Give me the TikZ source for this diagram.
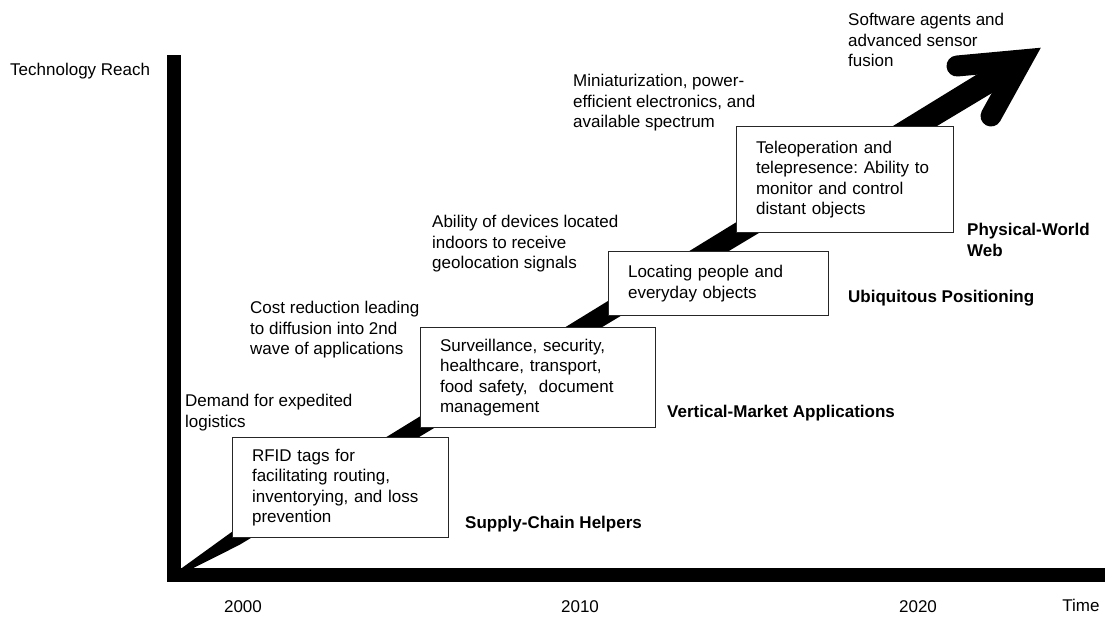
\documentclass[tikz,border=0pt]{standalone}
\usepackage{fontspec}
\setmainfont{Liberation Sans}
\usetikzlibrary{calc}
\frenchspacing
\begin{document}
\begin{tikzpicture}[x=1pt,y=-1pt,
  txt/.style={font=\fontsize{17}{20.5}\selectfont},
  lbl/.style={txt, align=left, inner sep=0pt, anchor=north west},
  bld/.style={lbl, font=\fontsize{17}{20.5}\selectfont\bfseries},
  yr/.style={txt, inner sep=0pt},
  box/.style={txt, draw=black!85, line width=1.1pt, fill=white, anchor=north west,
    inner xsep=19.5pt, inner ysep=0pt, align=left},
  bar/.style={fill=black},
]
\useasboundingbox (0,0) rectangle (1107,616);

% ---- big tapered arrow ----
\coordinate (c0) at (177,574);
\coordinate (c1) at (1012,67);
\coordinate (sh) at ($(c0)!0.07!(c1)$);
\fill ($(c0)!2pt!90:(c1)$) -- ($(sh)!7.5pt!90:(c1)$) -- ($(c1)!12pt!-90:(c0)$)
   -- ($(c1)!12pt!90:(c0)$) -- ($(sh)!7.5pt!-90:(c1)$) -- ($(c0)!2pt!-90:(c1)$) -- cycle;
\coordinate (hl) at (957,66);
\coordinate (ht) at (1022,60);
\coordinate (hr) at (991,116);
\draw[line width=21pt, line cap=round, line join=miter] (hl) -- (ht) -- (hr);

% ---- boxes ----
\node[box, text width=177pt, minimum width=216pt, minimum height=100pt] (b1) at (232,437)
  {RFID tags for\\facilitating routing,\\inventorying, and loss\\prevention};
\node[box, text width=196pt, minimum width=235pt, minimum height=100pt] (b2) at (420,327)
  {Surveillance, security,\\healthcare, transport,\\food safety,\ \ document\\management};
\node[box, text width=181pt, minimum width=220pt, minimum height=64pt] (b3) at (608,251)
  {Locating people and\\everyday objects};
\node[box, text width=178pt, minimum width=217pt, minimum height=106pt] (b4) at (736,126)
  {Teleoperation and\\telepresence: Ability to\\monitor and control\\distant objects};

% ---- axes ----
\fill[bar] (167,55) rectangle (181,582);
\fill[bar] (167,568) rectangle (1105,582);

% ---- labels ----
\node[lbl] (treach) at (10,63) {Technology Reach};
\node[lbl] (soft) at (848,13) {Software agents and\\advanced sensor\\fusion};
\node[lbl] (mini) at (573,74) {Miniaturization, power-\\efficient electronics, and\\available spectrum};
\node[bld] (phys) at (967,223) {Physical-World\\Web};
\node[lbl] (abil) at (432,215) {Ability of devices located\\indoors to receive\\geolocation signals};
\node[bld] (ubiq) at (848,290) {Ubiquitous Positioning};
\node[lbl] (cost) at (250,301) {Cost reduction leading\\to diffusion into 2nd\\wave of applications};
\node[bld] (vert) at (667,405) {Vertical-Market Applications};
\node[lbl] (dem) at (185,394) {Demand for expedited\\logistics};
\node[bld] (supp) at (465,516) {Supply-Chain Helpers};

\node[yr] (y2000) at (243,607) {2000};
\node[yr] (y2010) at (580,607) {2010};
\node[yr] (y2020) at (918,607) {2020};
\node[yr] (time) at (1081,605) {Time};
\end{tikzpicture}
\end{document}
